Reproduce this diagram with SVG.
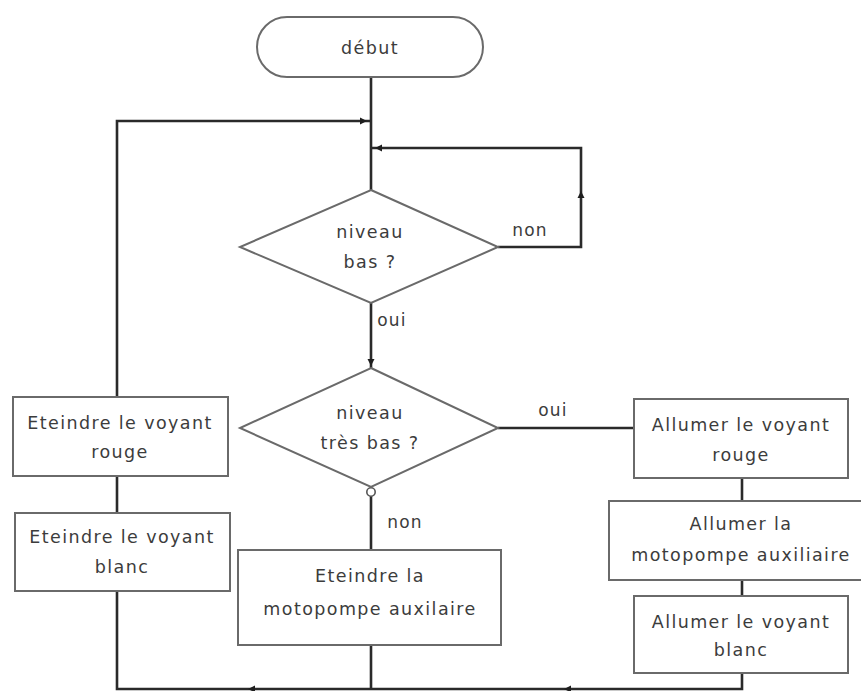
<svg xmlns="http://www.w3.org/2000/svg" width="861" height="691" viewBox="0 0 861 691">
  <style>
    .shape { fill: #ffffff; stroke: #6a6a6a; stroke-width: 2; }
    .wire { fill: none; stroke: #2a2a2a; stroke-width: 2.6; stroke-linejoin: miter; }
    .txt { font-family: "DejaVu Sans", "Liberation Sans", sans-serif; font-size: 17.5px; letter-spacing: 1.4px; fill: #3c3c3c; text-anchor: middle; }
    .lbl { font-family: "DejaVu Sans", "Liberation Sans", sans-serif; font-size: 17px; letter-spacing: 1.2px; fill: #3c3c3c; text-anchor: middle; }
    .head { fill: #1e1e1e; }
  </style>
  <defs>
    <!-- small arrowhead pointing right, tip at origin -->
    <path id="ah" d="M0,0 L-7,-3.5 L-7,3.5 Z"/>
  </defs>
  <rect width="861" height="691" fill="#ffffff"/>

  <!-- connectors -->
  <g id="connectors">
    <path class="wire" d="M371,77 V190"/>
    <path class="wire" d="M117,397 V121 H371"/>
    <path class="wire" d="M498,247 H581 V148 H371"/>
    <path class="wire" d="M371,303 V368"/>
    <path class="wire" d="M498,428 H634"/>
    <path class="wire" d="M371,496 V550"/>
    <path class="wire" d="M117,476 V513"/>
    <path class="wire" d="M117,591 V689 H742 V673"/>
    <path class="wire" d="M371,645 V689"/>
    <path class="wire" d="M742,478 V501"/>
    <path class="wire" d="M742,580 V596"/>
    <use href="#ah" class="head" transform="translate(367,121)"/>
    <use href="#ah" class="head" transform="translate(375,148) rotate(180)"/>
    <use href="#ah" class="head" transform="translate(581,191) rotate(-90)"/>
    <use href="#ah" class="head" transform="translate(371,366) rotate(90)"/>
    <use href="#ah" class="head" transform="translate(248,689) rotate(180)"/>
    <use href="#ah" class="head" transform="translate(564,689) rotate(180)"/>
    <circle cx="371" cy="492" r="4.2" fill="#ffffff" stroke="#555555" stroke-width="1.6"/>
    <text class="lbl" x="530" y="236">non</text>
    <text class="lbl" x="392" y="326">oui</text>
    <text class="lbl" x="553" y="416">oui</text>
    <text class="lbl" x="405" y="528">non</text>
  </g>

  <g id="debut">
    <rect class="shape" x="257" y="17" width="226" height="60" rx="30"/>
    <text class="txt" x="370" y="54">début</text>
  </g>

  <g id="niveau-bas">
    <polygon class="shape" points="371,190 498,247 371,303 240,247"/>
    <text class="txt" x="370" y="238">niveau</text>
    <text class="txt" x="370" y="268">bas ?</text>
  </g>

  <g id="niveau-tres-bas">
    <polygon class="shape" points="371,368 498,428 371,487 240,428"/>
    <text class="txt" x="370" y="419">niveau</text>
    <text class="txt" x="370" y="449">très bas ?</text>
  </g>

  <g id="eteindre-rouge">
    <rect class="shape" x="13" y="397" width="215" height="79"/>
    <text class="txt" x="120" y="429">Eteindre le voyant</text>
    <text class="txt" x="120" y="458">rouge</text>
  </g>

  <g id="eteindre-blanc">
    <rect class="shape" x="15" y="513" width="215" height="78"/>
    <text class="txt" x="122" y="543">Eteindre le voyant</text>
    <text class="txt" x="122" y="573">blanc</text>
  </g>

  <g id="eteindre-motopompe">
    <rect class="shape" x="238" y="550" width="263" height="95"/>
    <text class="txt" x="370" y="582">Eteindre la</text>
    <text class="txt" x="370" y="615">motopompe auxilaire</text>
  </g>

  <g id="allumer-rouge">
    <rect class="shape" x="634" y="399" width="214" height="79"/>
    <text class="txt" x="741" y="431">Allumer le voyant</text>
    <text class="txt" x="741" y="461">rouge</text>
  </g>

  <g id="allumer-motopompe">
    <rect class="shape" x="609" y="501" width="264" height="79"/>
    <text class="txt" x="741" y="530">Allumer la</text>
    <text class="txt" x="741" y="561">motopompe auxiliaire</text>
  </g>

  <g id="allumer-blanc">
    <rect class="shape" x="634" y="596" width="214" height="77"/>
    <text class="txt" x="741" y="628">Allumer le voyant</text>
    <text class="txt" x="741" y="656">blanc</text>
  </g>
</svg>
